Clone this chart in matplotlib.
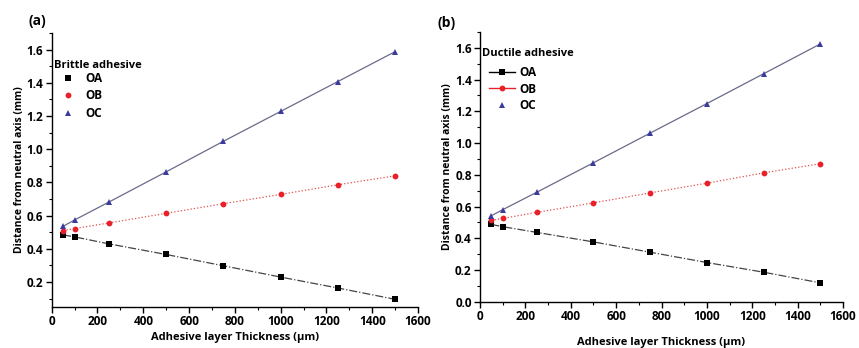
import matplotlib.pyplot as plt
from matplotlib.lines import Line2D
from matplotlib.ticker import MultipleLocator

plt.rcParams['font.family'] = ['Open Sans', 'DejaVu Sans']
plt.rcParams['font.weight'] = 'bold'

# Adhesive layer thickness (um)
thickness = [50, 100, 250, 500, 750, 1000, 1250, 1500]

# (a) brittle adhesive, distance from neutral axis (mm)
brittle_oa = [0.484, 0.472, 0.430, 0.366, 0.298, 0.230, 0.164, 0.096]
brittle_ob = [0.510, 0.522, 0.556, 0.614, 0.672, 0.728, 0.786, 0.840]
brittle_oc = [0.536, 0.574, 0.682, 0.864, 1.048, 1.228, 1.408, 1.588]

# (b) ductile adhesive
ductile_oa = [0.487, 0.473, 0.437, 0.377, 0.312, 0.247, 0.186, 0.119]
ductile_ob = [0.513, 0.525, 0.563, 0.623, 0.686, 0.747, 0.812, 0.870]
ductile_oc = [0.542, 0.580, 0.690, 0.876, 1.063, 1.249, 1.437, 1.625]

series_names = ['OA', 'OB', 'OC']
colors = ['black', '#e8202a', '#3a3aa0']
markers = ['s', 'o', '^']
line_styles = ['-.', ':', '-']
line_colors = ['#444444', '#e05050', '#6a6a8a']

fig = plt.figure(figsize=(8.59, 3.48), dpi=100)
ax_a = fig.add_axes([0.0602, 0.118, 0.4264, 0.787])
ax_b = fig.add_axes([0.5588, 0.133, 0.4226, 0.775])


def draw_panel(ax, data, ylim, title, title_y, legend_lines, leg_anchor, spacing):
    for vals, c, m, ls, lc in zip(data, colors, markers, line_styles, line_colors):
        ax.plot(thickness, vals, linestyle=ls, color=lc, linewidth=0.9)
        ax.plot(thickness, vals, linestyle='none', marker=m, color=c,
                markersize=4.2, markeredgewidth=0)
    ax.set_xlim(0, 1600)
    ax.set_ylim(*ylim)
    ax.xaxis.set_major_locator(MultipleLocator(200))
    ax.xaxis.set_minor_locator(MultipleLocator(100))
    ax.yaxis.set_major_locator(MultipleLocator(0.2))
    ax.yaxis.set_minor_locator(MultipleLocator(0.1))
    ax.spines['top'].set_visible(False)
    ax.spines['right'].set_visible(False)
    for s in ('left', 'bottom'):
        ax.spines[s].set_linewidth(1.0)
    ax.tick_params(which='major', direction='out', length=4, width=1.0,
                   labelsize=8.5, pad=2)
    ax.tick_params(which='minor', direction='out', length=2.5, width=0.8)
    for lbl in ax.get_xticklabels() + ax.get_yticklabels():
        lbl.set_fontweight('bold')
    ax.set_xlabel('Adhesive layer Thickness (µm)', fontsize=8, fontweight='bold')
    ax.set_ylabel('Distance from neutral axis (mm)', fontsize=7.5, fontweight='bold')

    # legend heading sits flush with the axis, entries are indented
    ax.text(0.005, title_y, title, transform=ax.transAxes, fontsize=8,
            fontweight='bold', ha='left', va='center')
    handles = []
    for name, c, m, with_line in zip(series_names, colors, markers, legend_lines):
        handles.append(Line2D([], [], color=c,
                              linestyle='-' if with_line else 'none',
                              linewidth=1.0, marker=m, markersize=4.2,
                              markeredgewidth=0, label=name))
    leg = ax.legend(handles=handles, loc='upper left', bbox_to_anchor=leg_anchor,
                    frameon=False, fontsize=8.5, handlelength=2.2,
                    labelspacing=spacing, handletextpad=0.35,
                    borderpad=0, borderaxespad=0)
    for t in leg.get_texts():
        t.set_fontweight('bold')


draw_panel(ax_a, [brittle_oa, brittle_ob, brittle_oc], (0.05, 1.7),
           'Brittle adhesive', 0.88, [False, False, False], (0.009, 0.858), 0.37)
draw_panel(ax_b, [ductile_oa, ductile_ob, ductile_oc], (0.0, 1.7),
           'Ductile adhesive', 0.922, [True, True, False], (0.026, 0.874), 0.3)

ax_a.yaxis.set_label_coords(-0.074, 0.5)
ax_b.yaxis.set_label_coords(-0.074, 0.5)
ax_a.xaxis.set_label_coords(0.5, -0.09)
ax_b.xaxis.set_label_coords(0.5, -0.13)

fig.text(0.033, 0.94, '(a)', fontsize=10, fontweight='bold', va='center')
fig.text(0.509, 0.934, '(b)', fontsize=10, fontweight='bold', va='center')

fig.savefig('out.png', dpi=100)
